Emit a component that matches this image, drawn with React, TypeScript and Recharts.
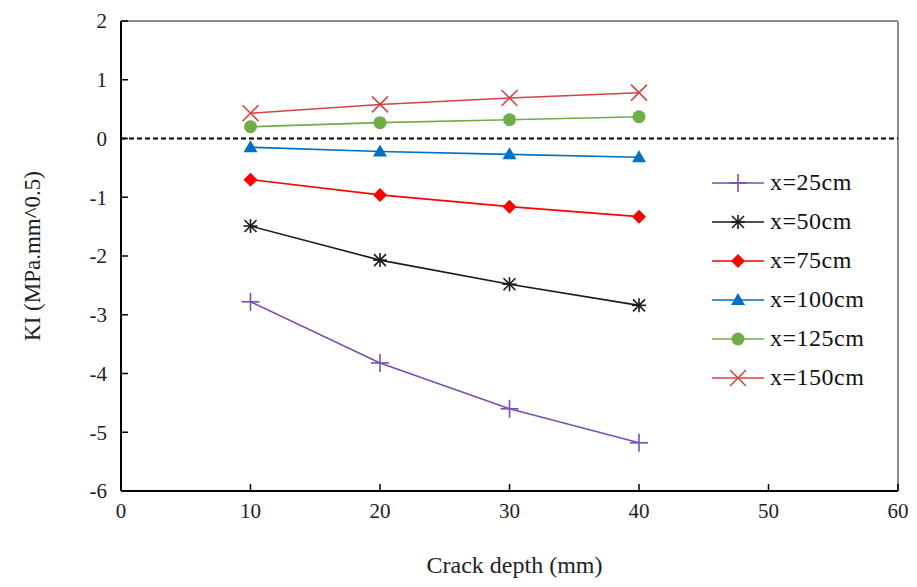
import * as React from "react";
import {
  LineChart,
  Line,
  XAxis,
  YAxis,
  ReferenceLine,
} from "recharts";

const depth = [10, 20, 30, 40];
const x25 = [-2.78, -3.82, -4.6, -5.18];
const x50 = [-1.49, -2.07, -2.48, -2.84];
const x75 = [-0.7, -0.96, -1.16, -1.33];
const x100 = [-0.15, -0.22, -0.27, -0.32];
const x125 = [0.2, 0.27, 0.32, 0.37];
const x150 = [0.43, 0.58, 0.69, 0.78];

const xTicks = [0, 10, 20, 30, 40, 50, 60];
const yTicks = [-6, -5, -4, -3, -2, -1, 0, 1, 2];

const data = depth.map((d, i) => ({
  depth: d,
  x25: x25[i],
  x50: x50[i],
  x75: x75[i],
  x100: x100[i],
  x125: x125[i],
  x150: x150[i],
}));

const FONT = "Liberation Serif, Times New Roman, serif";

type MarkerKind = "plus" | "star" | "diamond" | "triangle" | "circle" | "cross";

function Marker({ kind, cx, cy, color }: { kind: MarkerKind; cx: number; cy: number; color: string }) {
  switch (kind) {
    case "plus":
      return (
        <g stroke={color} strokeWidth={1.6}>
          <line x1={cx - 9} y1={cy} x2={cx + 9} y2={cy} />
          <line x1={cx} y1={cy - 9} x2={cx} y2={cy + 9} />
        </g>
      );
    case "star":
      return (
        <g stroke={color} strokeWidth={1.6}>
          <line x1={cx - 7} y1={cy} x2={cx + 7} y2={cy} />
          <line x1={cx} y1={cy - 7} x2={cx} y2={cy + 7} />
          <line x1={cx - 6} y1={cy - 6} x2={cx + 6} y2={cy + 6} />
          <line x1={cx - 6} y1={cy + 6} x2={cx + 6} y2={cy - 6} />
        </g>
      );
    case "diamond":
      return <polygon points={`${cx},${cy - 7} ${cx + 7},${cy} ${cx},${cy + 7} ${cx - 7},${cy}`} fill={color} />;
    case "triangle":
      return <polygon points={`${cx},${cy - 7} ${cx + 7},${cy + 5} ${cx - 7},${cy + 5}`} fill={color} />;
    case "circle":
      return <circle cx={cx} cy={cy} r={6.5} fill={color} />;
    case "cross":
      return (
        <g stroke={color} strokeWidth={1.6}>
          <line x1={cx - 8} y1={cy - 8} x2={cx + 8} y2={cy + 8} />
          <line x1={cx - 8} y1={cy + 8} x2={cx + 8} y2={cy - 8} />
        </g>
      );
  }
  return null;
}

const series: { key: string; name: string; color: string; marker: MarkerKind }[] = [
  { key: "x25", name: "x=25cm", color: "#7a4fb0", marker: "plus" },
  { key: "x50", name: "x=50cm", color: "#1a1a1a", marker: "star" },
  { key: "x75", name: "x=75cm", color: "#ff0000", marker: "diamond" },
  { key: "x100", name: "x=100cm", color: "#0070c0", marker: "triangle" },
  { key: "x125", name: "x=125cm", color: "#70ad47", marker: "circle" },
  { key: "x150", name: "x=150cm", color: "#d04545", marker: "cross" },
];

function LegendBox() {
  return (
    <div style={{ position: "absolute", left: 710, top: 163, fontFamily: FONT, fontSize: 24, color: "#111" }}>
      {series.map((s) => (
        <div key={s.key} style={{ display: "flex", alignItems: "center", height: 39 }}>
          <svg width={56} height={20} style={{ marginRight: 4 }}>
            <line x1={2} y1={10} x2={54} y2={10} stroke={s.color} strokeWidth={1.6} />
            <Marker kind={s.marker} cx={28} cy={10} color={s.color} />
          </svg>
          <span style={{ letterSpacing: 0.5 }}>{s.name}</span>
        </div>
      ))}
    </div>
  );
}

export default function App() {
  return (
    <div style={{ position: "absolute", left: 0, top: 0, width: 917, height: 587, background: "#fff", fontFamily: FONT }}>
      <LineChart
        width={917}
        height={587}
        data={data}
        margin={{ top: 21, right: 19, bottom: 36, left: 61 }}
        style={{ fontFamily: FONT }}
      >
        <XAxis
          dataKey="depth"
          type="number"
          domain={[0, 60]}
          ticks={xTicks}
          tickSize={-7}
          tickMargin={19}
          tickLine={{ stroke: "#000", strokeWidth: 1.5 }}
          axisLine={{ stroke: "#000", strokeWidth: 2 }}
          tick={{ fontFamily: FONT, fontSize: 21, fill: "#222" }}
          height={60}
          label={{
            content: (p: any) => {
              const vb = p.viewBox;
              return (
                <text
                  x={vb.x + vb.width / 2 + 5}
                  y={vb.y + 82}
                  textAnchor="middle"
                  fontFamily={FONT}
                  fontSize={24}
                  fill="#222"
                >
                  Crack depth (mm)
                </text>
              );
            },
          }}
        />
        <YAxis
          type="number"
          domain={[-6, 2]}
          ticks={yTicks}
          width={60}
          tickSize={-7}
          tickMargin={21}
          tickLine={{ stroke: "#000", strokeWidth: 1.5 }}
          axisLine={{ stroke: "#000", strokeWidth: 2 }}
          tick={{ fontFamily: FONT, fontSize: 21, fill: "#222" }}
          label={{
            content: (p: any) => {
              const vb = p.viewBox;
              const cx = vb.x - 29;
              const cy = vb.y + vb.height / 2;
              return (
                <text
                  x={cx}
                  y={cy}
                  transform={`rotate(-90 ${cx} ${cy})`}
                  textAnchor="middle"
                  dominantBaseline="central"
                  fontFamily={FONT}
                  fontSize={23}
                  fill="#222"
                >
                  KI (MPa.mm^0.5)
                </text>
              );
            },
          }}
        />
        <ReferenceLine y={2} stroke="#8c8c8c" strokeWidth={2} />
        <ReferenceLine x={60} stroke="#8c8c8c" strokeWidth={2} />
        <ReferenceLine y={0} stroke="#000" strokeWidth={2} strokeDasharray="5 3" />
        {series.map((s) => (
          <Line
            key={s.key}
            dataKey={s.key}
            name={s.name}
            stroke={s.color}
            strokeWidth={1.6}
            isAnimationActive={false}
            dot={(p: any) => <Marker key={`${s.key}-${p.index}`} kind={s.marker} cx={p.cx} cy={p.cy} color={s.color} />}
            activeDot={false}
          />
        ))}
      </LineChart>
      <LegendBox />
    </div>
  );
}
